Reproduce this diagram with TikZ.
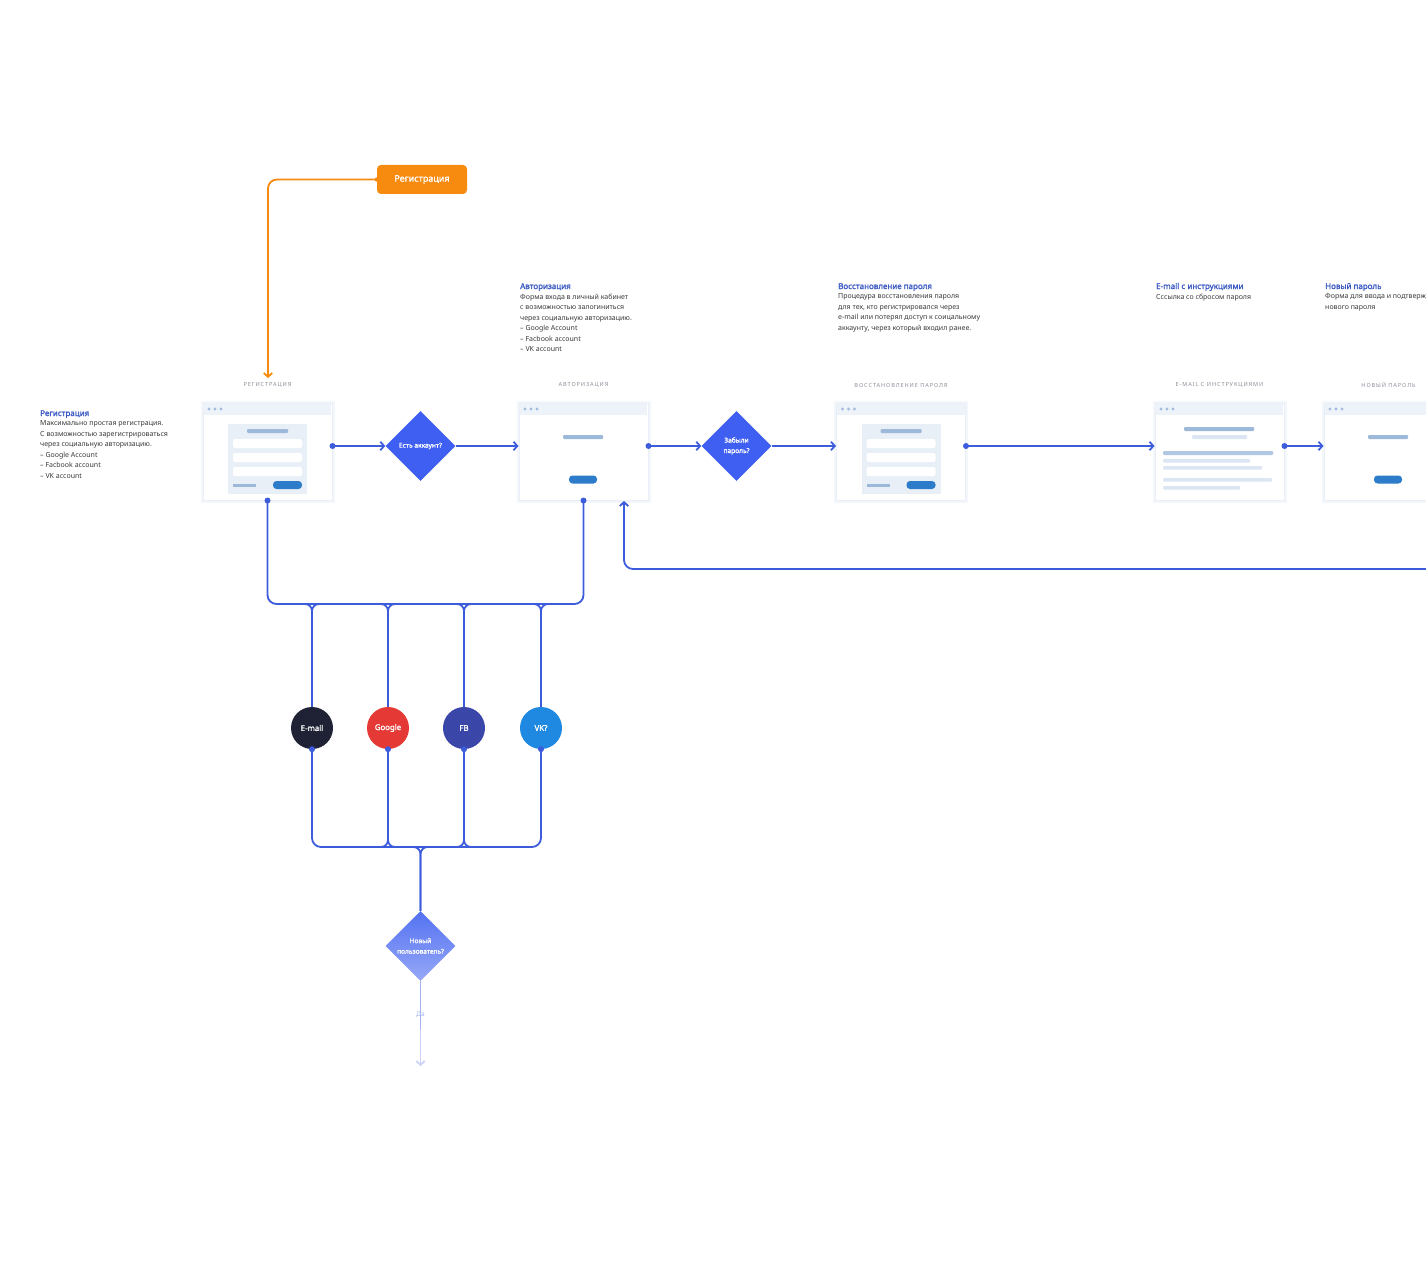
\documentclass[tikz,border=0pt]{standalone}
\usepackage{fontspec}
\setmainfont{Noto Sans}
\newfontfamily\capsfont[LetterSpace=16]{Noto Sans}
\newfontfamily\bsans[FakeBold=1.6]{Noto Sans}
\usetikzlibrary{shapes.geometric,arrows.meta}
\definecolor{lineblue}{HTML}{3D5CDB}
\definecolor{diamc}{HTML}{3F5FF2}
\definecolor{oranc}{HTML}{F78B10}
\definecolor{framec}{HTML}{E9EFF7}
\definecolor{shadowc}{HTML}{F3F6FB}
\definecolor{topbarc}{HTML}{EEF3F9}
\definecolor{dotc}{HTML}{A4BDDF}
\definecolor{panelc}{HTML}{E8EFF7}
\definecolor{barc}{HTML}{9CB9DA}
\definecolor{lbarc}{HTML}{DCE6F2}
\definecolor{btnc}{HTML}{2D7CC9}
\definecolor{capc}{HTML}{8A8F99}
\definecolor{titlec}{HTML}{3D5BC4}
\definecolor{bodyc}{HTML}{3A3A3A}
\definecolor{emailc}{HTML}{1F2235}
\definecolor{googlec}{HTML}{E53935}
\definecolor{fbc}{HTML}{3A47A8}
\definecolor{vkc}{HTML}{1F88E0}
\definecolor{fadec}{HTML}{A3B3F3}
\definecolor{fadec2}{HTML}{CBD3F8}

% window chrome: top bar and dots, #1 = left x
\newcommand\winbar[1]{%
  \fill[topbarc] (#1+0.6,403.6) rectangle (#1+128.4,415);
  \foreach \dd in {6,12,18} \fill[dotc] (#1+\dd,409) circle (1.7pt);}
% registration-type form, #1 = left x
\newcommand\formdetails[1]{%
  \fill[panelc] (#1+25,424) rectangle (#1+104,494);
  \fill[barc, rounded corners=1pt] (#1+44,429) rectangle (#1+85,433);
  \foreach \yy in {439,453,467}
    \fill[white, rounded corners=2pt] (#1+30,\yy) rectangle (#1+99,\yy+9);
  \fill[barc] (#1+30,483.5) rectangle (#1+53,487);
  \fill[btnc, rounded corners=3.5pt] (#1+70,481) rectangle (#1+99,489);}
% login-type content, #1 = left x
\newcommand\authdetails[1]{%
  \fill[barc, rounded corners=1pt] (#1+44,435) rectangle (#1+84,439);
  \fill[btnc, rounded corners=3.5pt] (#1+50,475.5) rectangle (#1+78,483.5);}

\begin{document}
\begin{tikzpicture}[x=1pt,y=-1pt,
  conn/.style={draw=lineblue, line width=1.8pt, rounded corners=9pt},
  arr/.style={-{Straight Barb[length=3.8pt,width=8.5pt]}},
  screen/.style={draw=framec, line width=1pt, fill=white, minimum width=129pt,
    minimum height=97pt, inner sep=0pt, preaction={draw=shadowc, line width=5pt}},
  scrcap/.style={font=\capsfont\fontsize{5.6}{6}\selectfont, text=capc, inner sep=0pt},
  dtitle/.style={font=\bsans\fontsize{8}{9}\selectfont, text=titlec, inner sep=0pt, anchor=base west},
  dbody/.style={font=\fontsize{7}{10.5}\selectfont, text=bodyc, inner sep=0pt, anchor=north west, align=left},
  decision/.style={diamond, aspect=1, minimum width=70pt, minimum height=70pt, inner sep=0pt,
    fill=diamc, text=white, font=\bsans\fontsize{6.6}{10.5}\selectfont, align=center},
  social/.style={circle, minimum size=42pt, inner sep=0pt, text=white, font=\bsans\fontsize{7.8}{8}\selectfont},
  orangebtn/.style={rectangle, rounded corners=4pt, fill=oranc, text=white, minimum width=90pt,
    minimum height=29pt, inner sep=0pt, font=\bsans\fontsize{9}{10}\selectfont}]
\clip (0,0) rectangle (1426,1284);
\fill[white] (0,0) rectangle (1426,1284);

% ---------- descriptions ----------
\node[dtitle] (treg) at (40,416) {Регистрация};
\node[dbody] (breg) at (40,420.5) {Максимально простая регистрация.\\С возможностью зарегистрироваться\\через социальную авторизацию.\\– Google Account\\– Facbook account\\– VK account};
\node[dtitle] (tauth) at (520,289) {Авторизация};
\node[dbody] (bauth) at (520,293.5) {Форма входа в личный кабинет\\с возможностью залогиниться\\через социальную авторизацию.\\– Google Account\\– Facbook account\\– VK account};
\node[dtitle] (trec) at (838,289) {Восстановление пароля};
\node[dbody] (brec) at (838,293.5) {Процедура восстановления пароля\\для тех, кто регистрировался через\\e-mail или потерял доступ к соицальному\\аккаунту, через который входил ранее.};
\node[dtitle] (tmail) at (1156,289) {E-mail с инструкциями};
\node[dbody] (bmail) at (1156,293.5) {Сссылка со сбросом пароля};
\node[dtitle] (tnew) at (1325,289) {Новый пароль};
\node[dbody] (bnew) at (1325,293.5) {Форма для ввода и подтверждения\\нового пароля};

% ---------- captions ----------
\node[scrcap] (creg) at (267.5,385) {РЕГИСТРАЦИЯ};
\node[scrcap] (cauth) at (583.5,385) {АВТОРИЗАЦИЯ};
\node[scrcap] (crec) at (901,385) {ВОССТАНОВЛЕНИЕ ПАРОЛЯ};
\node[scrcap] (cmail) at (1219.5,385) {E-MAIL С ИНСТРУКЦИЯМИ};
\node[scrcap] (cnew) at (1388.5,385) {НОВЫЙ ПАРОЛЬ};

% ---------- screens ----------
\node[screen] (reg) at (267.5,451.5) {};
\winbar{203}\formdetails{203}
\node[screen] (auth) at (583.5,451.5) {};
\winbar{519}\authdetails{519}
\node[screen] (rec) at (901,451.5) {};
\winbar{836.5}\formdetails{836.5}
\node[screen] (mail) at (1219.5,451.5) {};
\winbar{1155}
\fill[barc, rounded corners=1pt] (1184,427) rectangle (1254,431);
\fill[lbarc, rounded corners=1pt] (1192,435) rectangle (1247,439);
\fill[barc!80, rounded corners=1pt] (1163,451) rectangle (1273,455);
\fill[lbarc, rounded corners=1pt] (1163,459) rectangle (1250,462.5);
\fill[lbarc, rounded corners=1pt] (1163,466) rectangle (1262,469.5);
\fill[lbarc, rounded corners=1pt] (1163,478) rectangle (1272,481.5);
\fill[lbarc, rounded corners=1pt] (1163,486) rectangle (1240,489.5);
\node[screen] (new) at (1388.5,451.5) {};
\winbar{1324}\authdetails{1324}

% ---------- decisions ----------
\node[decision] (d1) at (420.5,446) {Есть аккаунт?};
\node[decision] (d2) at (736.5,446) {Забыли\\пароль?};
\node[decision, fill=none, top color={rgb,255:red,84;green,114;blue,242}, bottom color={rgb,255:red,150;green,168;blue,246}] (d3) at (420.5,946) {Новый\\пользователь?};

% ---------- social circles ----------
\node[social, fill=emailc] (em) at (312,728) {E-mail};
\node[social, fill=googlec] (go) at (388,728) {Google};
\node[social, fill=fbc] (fb) at (464,728) {FB};
\node[social, fill=vkc] (vk) at (541,728) {VK?};

% ---------- orange button ----------
\node[orangebtn] (oreg) at (422,179.5) {Регистрация};
\coordinate (oend) at (268,378);
\draw[draw=oranc, line width=1.8pt, rounded corners=9pt, arr] (oreg.west) -- (268,179.5) -- (oend);
\fill[oranc] (oreg.west) circle (2.2pt);

% ---------- main flow (all at the height of the decisions) ----------
\draw[conn, arr] (reg.east |- d1) -- (d1.west);
\draw[conn, arr] (d1.east) -- (auth.west |- d1);
\draw[conn, arr] (auth.east |- d1) -- (d2.west);
\draw[conn, arr] (d2.east) -- (rec.west |- d1);
\draw[conn, arr] (rec.east |- d1) -- (mail.west |- d1);
\draw[conn, arr] (mail.east |- d1) -- (new.west |- d1);
\foreach \n in {reg,auth,rec,mail} \fill[lineblue] (\n.east |- d1) circle (3pt);

% return line
\coordinate (ret) at (1432,569);
\coordinate (retend) at (624,501);
\draw[conn, arr] (ret) -- (624,569) -- (retend);

% top bus
\draw[conn] (reg.south) -- (267.5,604) -- (583.5,604) -- (auth.south);
\fill[lineblue] (reg.south) circle (3pt);
\fill[lineblue] (auth.south) circle (3pt);
\foreach \n/\xx in {em/312,go/388,fb/464,vk/541}{
  \draw[conn, rounded corners=7pt] (\xx-12,604) -- (\xx,604) -- (\n.north);
  \draw[conn, rounded corners=7pt] (\xx+12,604) -- (\xx,604) -- (\n.north);
}

% bottom bus
\draw[conn] (em.south) -- (312,847) -- (541,847) -- (vk.south);
\foreach \n/\xx in {go/388,fb/464}{
  \draw[conn, rounded corners=7pt] (\n.south) -- (\xx,847) -- (\xx-12,847);
  \draw[conn, rounded corners=7pt] (\n.south) -- (\xx,847) -- (\xx+12,847);
}
\foreach \n in {em,go,fb,vk} \fill[lineblue] (\n.south) circle (3pt);
\draw[conn, rounded corners=7pt] (408.5,847) -- (420.5,847) -- (d3.north);
\draw[conn, rounded corners=7pt] (432.5,847) -- (420.5,847) -- (d3.north);

% faded exit
\coordinate (dmid) at (420.5,1030);
\coordinate (dend) at (420.5,1066);
\draw[draw=fadec, line width=1.8pt] (d3.south) -- (dmid);
\draw[draw=fadec2, line width=1.8pt, arr] (dmid) -- (dend);
\node[font=\fontsize{6.5}{7}\selectfont, text=fadec, inner sep=0pt] (yes) at (420.5,1015) {Да};
\end{tikzpicture}
\end{document}
